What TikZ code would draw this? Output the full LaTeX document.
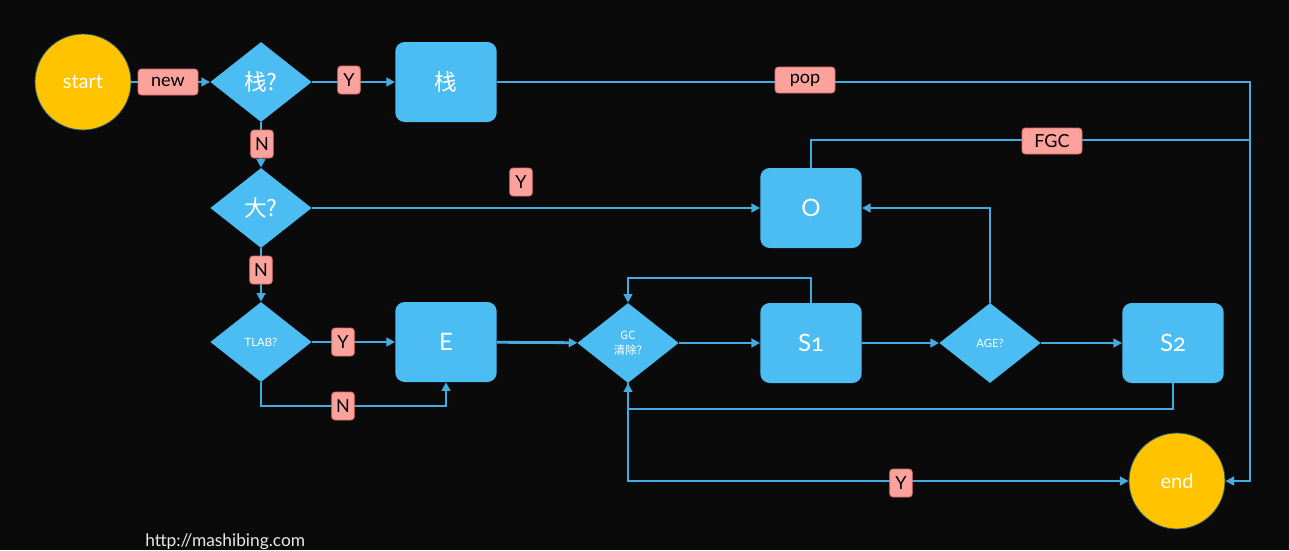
\documentclass[tikz,border=0pt]{standalone}
\usepackage{fontspec}
\setmainfont{Lato}[Numbers=OldStyle]
\newfontfamily\cjk{Noto Sans CJK SC}
\usetikzlibrary{shapes.geometric,arrows.meta}
\definecolor{bg}{HTML}{0A0A0A}
\definecolor{boxblue}{HTML}{4BBDF2}
\definecolor{lineblue}{HTML}{45ACE2}
\definecolor{sunyellow}{HTML}{FFC300}
\definecolor{tagpink}{HTML}{FBA29C}
\definecolor{tagedge}{HTML}{D96A66}
\definecolor{urlgray}{HTML}{E8E8E8}
\begin{document}
\begin{tikzpicture}[x=0.75pt,y=-0.75pt,
  term/.style={circle,fill=sunyellow,draw=lineblue!50!black,line width=0.6pt,minimum size=72pt,inner sep=0pt,text=white,font=\fontsize{15}{15}\selectfont},
  decision/.style={diamond,fill=boxblue,minimum width=76pt,minimum height=60pt,inner sep=0pt,text=white,align=center},
  block/.style={rectangle,rounded corners=7pt,fill=boxblue,minimum width=76pt,minimum height=60pt,inner sep=0pt,text=white,font=\fontsize{18}{18}\selectfont},
  tag/.style={rectangle,rounded corners=2.5pt,fill=tagpink,draw=tagedge,line width=0.6pt,minimum height=19.5pt,minimum width=45pt,inner xsep=3pt,inner ysep=0pt,text=black,font=\fontsize{13.5}{13.5}\selectfont},
  letter/.style={tag,minimum width=17pt,minimum height=21pt},
  flow/.style={draw=lineblue,line width=2.1pt,-{Triangle[length=6.5pt,width=6.5pt]}},
  link/.style={draw=lineblue,line width=2.1pt}]
\clip (0,0) rectangle (1289,550);
\fill[bg] (0,0) rectangle (1289,550);

% main nodes
\node[term] (start) at (83,82) {start};
\node[decision,font=\cjk\fontsize{17}{17}\selectfont] (q1) at (261,82) {栈?};
\node[block,font=\cjk\fontsize{17}{17}\selectfont] (stack) at (446,82) {栈};
\node[decision,font=\cjk\fontsize{17}{17}\selectfont] (q2) at (261,208) {大?};
\node[block] (old) at (811,208) {O};
\node[decision,font=\fontsize{8.5}{8.5}\selectfont] (q3) at (261,342) {TLAB?};
\node[block] (eden) at (446,342) {E};
\node[decision,font=\cjk\fontsize{8.5}{11}\selectfont] (gc) at (628,343) {GC\\清除?};
\node[block] (s1) at (811,343) {S1};
\node[decision,font=\fontsize{8.5}{8.5}\selectfont] (age) at (990,343) {AGE?};
\node[block] (s2) at (1173,343) {S2};
\node[term] (end) at (1177,481) {end};

% helper coordinates
\coordinate (popR) at (1250,82);
\coordinate (fgcR) at (1250,140);
\coordinate (tlabN) at (261,406);
\coordinate (s1Up) at (811,278);
\coordinate (s2Dn) at (1173,409);

% connectors
\draw[flow] (start) -- (q1);
\draw[flow] (q1) -- (stack);
\draw[flow] (stack.east) -- (popR) |- (end.east);
\draw[link] (old.north) |- (fgcR);
\draw[flow] (q1) -- (q2);
\draw[flow] (q2) -- (old);
\draw[flow] (q2) -- (q3);
\draw[flow] (q3) -- (eden);
\draw[flow] (q3.south) -- (tlabN) -| (eden.south);
\draw[flow] (eden) -- (gc);
\draw[flow] (gc) -- (s1);
\draw[flow] (s1.north) -- (s1Up) -| (gc.north);
\draw[flow] (s1) -- (age);
\draw[flow] (age.north) |- (old.east);
\draw[flow] (age) -- (s2);
\draw[flow] (s2.south) -- (s2Dn) -| (gc.south);
\draw[flow] (gc.south) |- (end.west);

% labels
\node[tag] (tnew) at (168,82) {new};
\node[letter] (ty1) at (349,80) {Y};
\node[tag] (tpop) at (805,80) {pop};
\node[letter] (tn1) at (262,144) {N};
\node[letter] (ty2) at (521,182) {Y};
\node[letter] (tn2) at (261,270) {N};
\node[letter] (ty3) at (343,342) {Y};
\node[letter] (tn3) at (343,406) {N};
\node[tag] (tfgc) at (1052,141) {FGC};
\node[letter] (ty4) at (901,483) {Y};

\node[anchor=north west,inner sep=0pt,text=urlgray,font=\fontsize{13}{13}\selectfont] (url) at (145,533) {http://mashibing.com};
\end{tikzpicture}
\end{document}
